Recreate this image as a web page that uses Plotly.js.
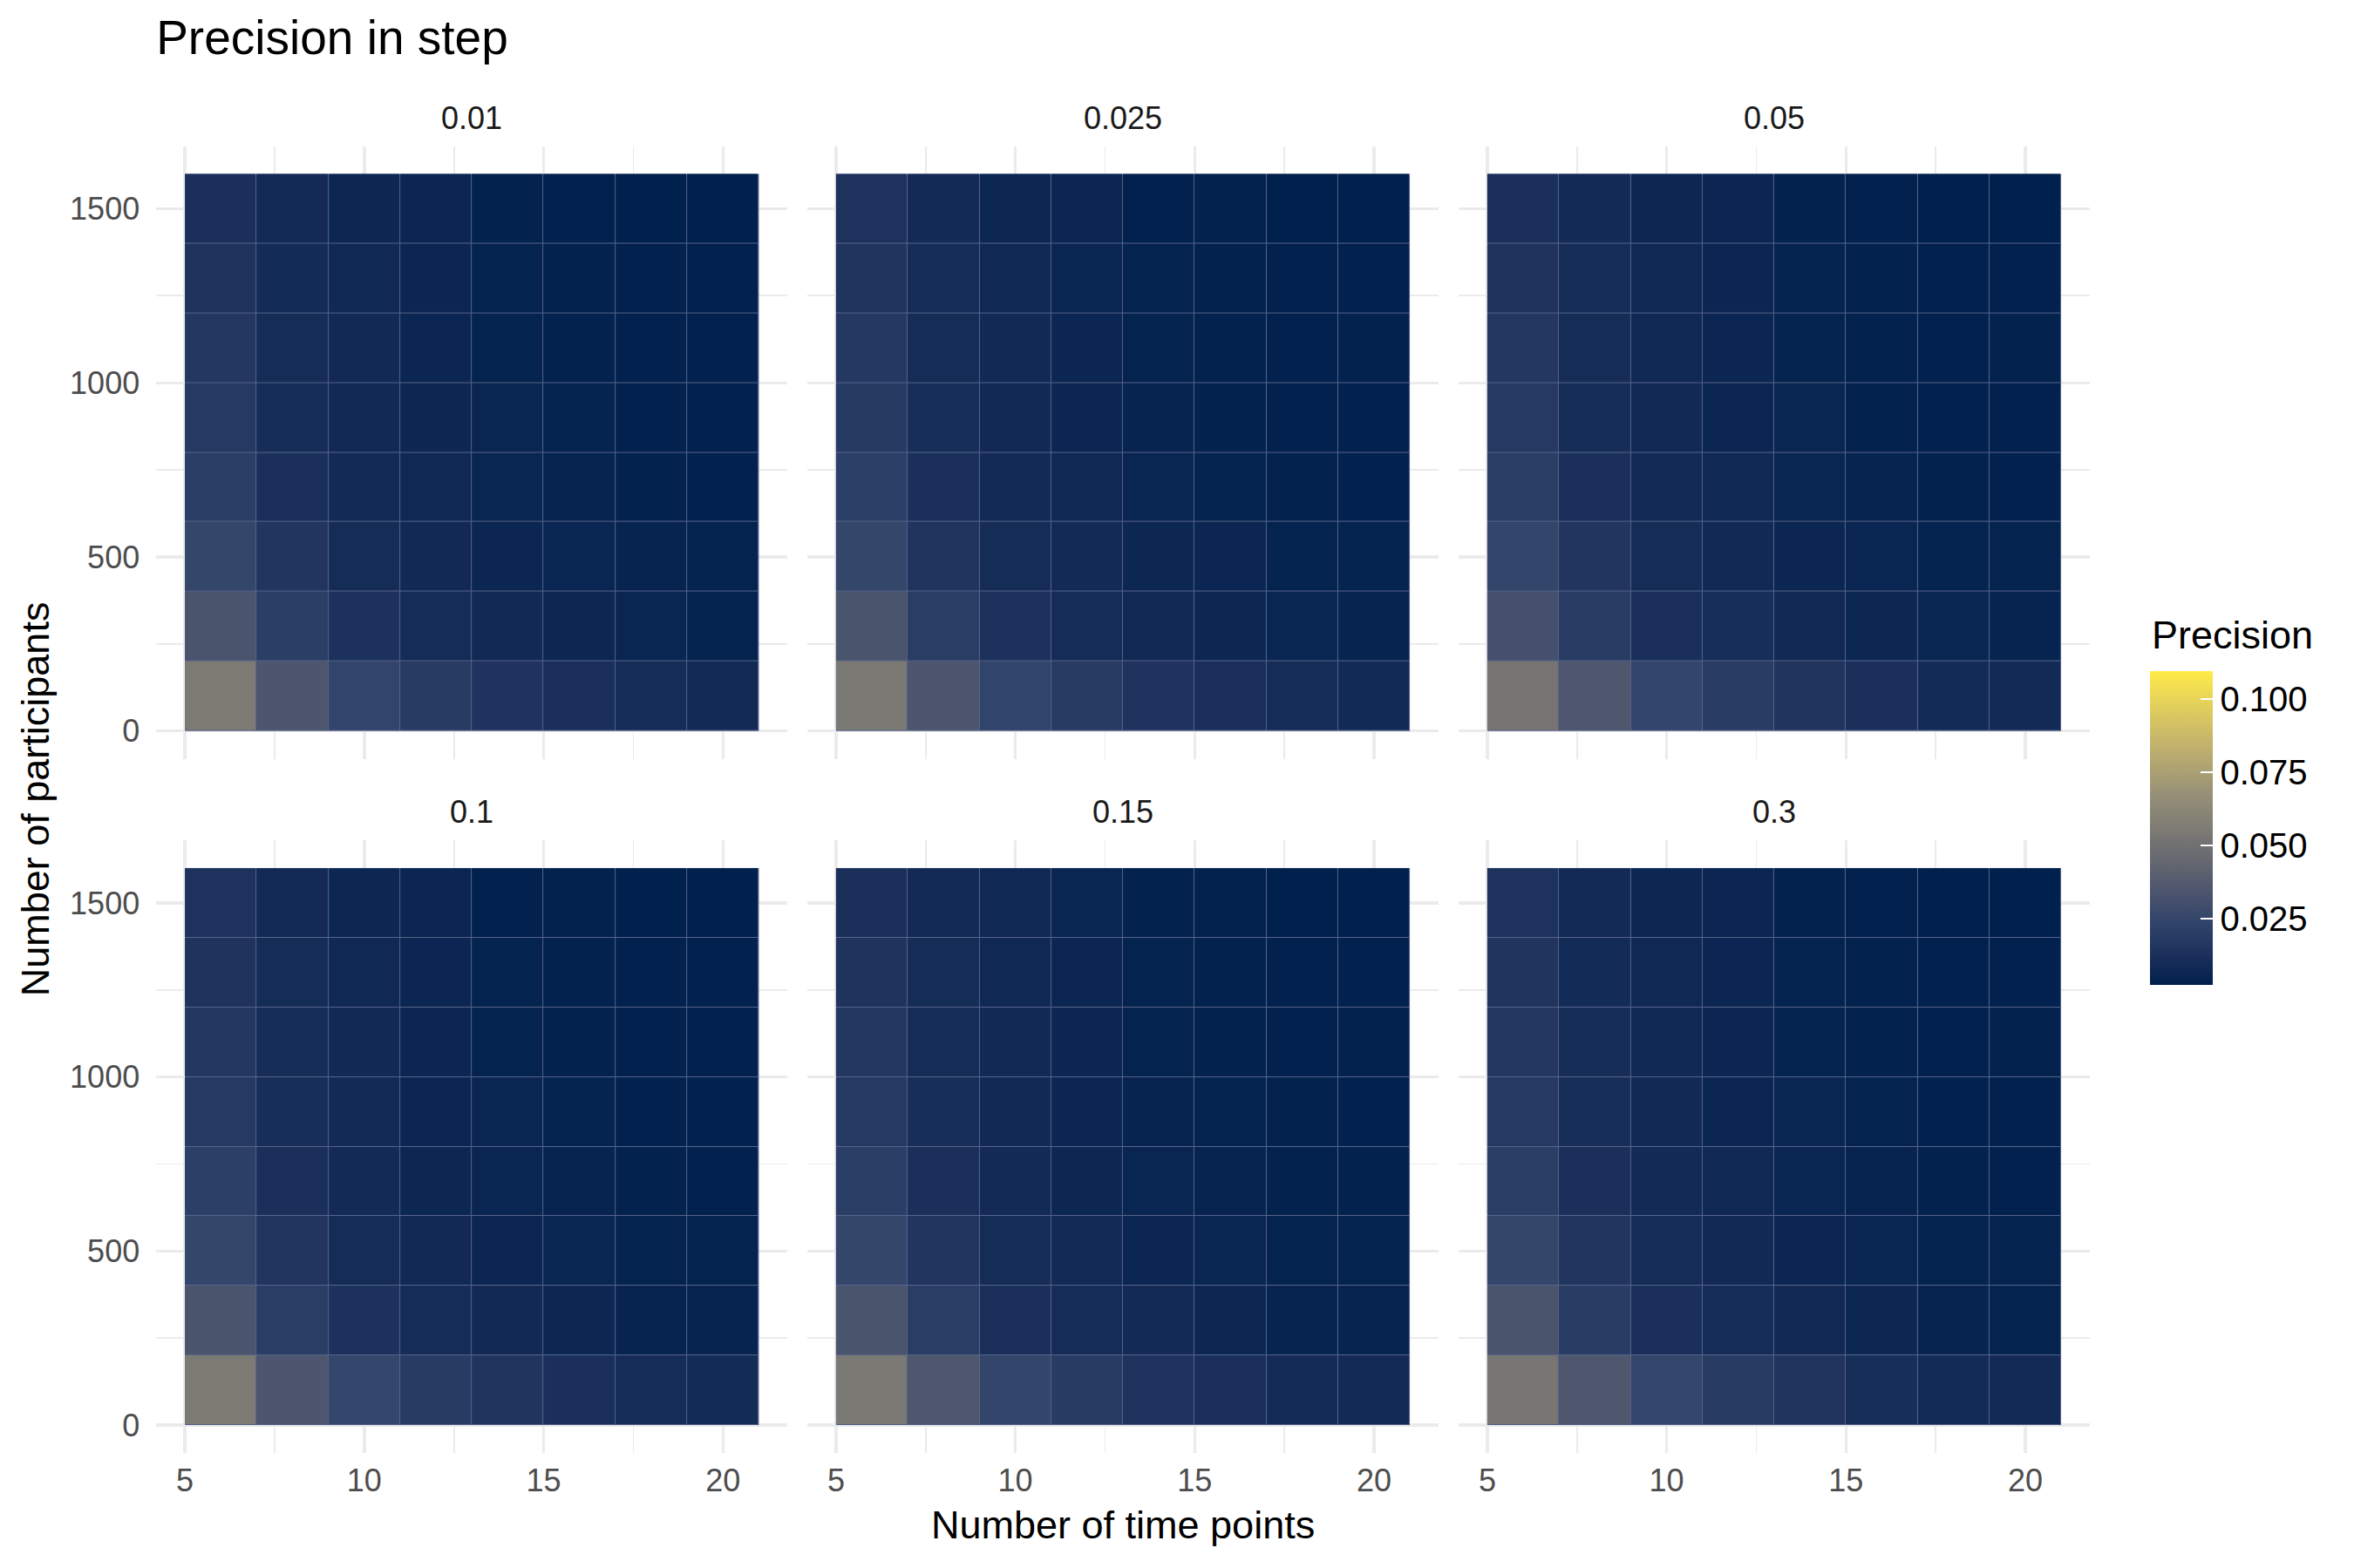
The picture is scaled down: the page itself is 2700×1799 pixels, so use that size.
<!DOCTYPE html>
<html>
<head>
<meta charset="utf-8">
<script src="https://cdn.plot.ly/plotly-3.0.1.min.js"></script>
<style>html,body{margin:0;padding:0;background:#fff;}#chart{width:2700px;height:1799px;}</style>
</head>
<body>
<div id="chart"></div>
<script>
// ---------------- data ----------------
const timePoints = [6, 8, 10, 12, 14, 16, 18, 20];
const participants = [100, 300, 500, 700, 900, 1100, 1300, 1500];
const panelLabels = ['0.01', '0.025', '0.05', '0.1', '0.15', '0.3'];

// rows: participants 100 -> 1500; columns: time points 6 -> 20
const precision_0_01 = [
  [0.0546, 0.0347, 0.0241, 0.0184, 0.0145, 0.0118, 0.0099, 0.0086],
  [0.0332, 0.0205, 0.0130, 0.0099, 0.0080, 0.0068, 0.0055, 0.0043],
  [0.0252, 0.0155, 0.0099, 0.0080, 0.0061, 0.0055, 0.0049, 0.0043],
  [0.0202, 0.0124, 0.0086, 0.0074, 0.0055, 0.0049, 0.0036, 0.0030],
  [0.0174, 0.0105, 0.0080, 0.0068, 0.0055, 0.0043, 0.0030, 0.0030],
  [0.0161, 0.0099, 0.0080, 0.0061, 0.0043, 0.0036, 0.0030, 0.0030],
  [0.0143, 0.0093, 0.0074, 0.0061, 0.0043, 0.0036, 0.0030, 0.0030],
  [0.0124, 0.0086, 0.0068, 0.0061, 0.0036, 0.0030, 0.0024, 0.0024]
];
const precision_0_025 = [
  [0.0540, 0.0347, 0.0240, 0.0184, 0.0145, 0.0118, 0.0099, 0.0088],
  [0.0332, 0.0196, 0.0130, 0.0099, 0.0080, 0.0068, 0.0055, 0.0049],
  [0.0252, 0.0149, 0.0099, 0.0086, 0.0068, 0.0061, 0.0043, 0.0043],
  [0.0208, 0.0124, 0.0086, 0.0074, 0.0055, 0.0043, 0.0036, 0.0030],
  [0.0180, 0.0111, 0.0080, 0.0061, 0.0049, 0.0036, 0.0030, 0.0030],
  [0.0168, 0.0099, 0.0080, 0.0061, 0.0043, 0.0036, 0.0030, 0.0036],
  [0.0149, 0.0099, 0.0074, 0.0055, 0.0043, 0.0036, 0.0030, 0.0030],
  [0.0136, 0.0086, 0.0068, 0.0061, 0.0030, 0.0036, 0.0024, 0.0024]
];
const precision_0_05 = [
  [0.0526, 0.0350, 0.0245, 0.0190, 0.0149, 0.0124, 0.0093, 0.0086],
  [0.0308, 0.0190, 0.0124, 0.0111, 0.0080, 0.0068, 0.0055, 0.0049],
  [0.0246, 0.0155, 0.0099, 0.0080, 0.0061, 0.0055, 0.0043, 0.0043],
  [0.0202, 0.0124, 0.0086, 0.0074, 0.0055, 0.0049, 0.0036, 0.0030],
  [0.0174, 0.0105, 0.0080, 0.0061, 0.0055, 0.0036, 0.0030, 0.0030],
  [0.0161, 0.0099, 0.0074, 0.0061, 0.0043, 0.0036, 0.0030, 0.0036],
  [0.0143, 0.0099, 0.0074, 0.0061, 0.0043, 0.0036, 0.0030, 0.0030],
  [0.0124, 0.0086, 0.0068, 0.0061, 0.0036, 0.0030, 0.0024, 0.0024]
];
const precision_0_1 = [
  [0.0546, 0.0347, 0.0250, 0.0184, 0.0149, 0.0124, 0.0099, 0.0093],
  [0.0332, 0.0196, 0.0130, 0.0099, 0.0080, 0.0068, 0.0049, 0.0049],
  [0.0252, 0.0155, 0.0099, 0.0080, 0.0061, 0.0055, 0.0043, 0.0043],
  [0.0208, 0.0124, 0.0086, 0.0068, 0.0055, 0.0049, 0.0036, 0.0030],
  [0.0174, 0.0111, 0.0086, 0.0061, 0.0055, 0.0043, 0.0030, 0.0030],
  [0.0161, 0.0105, 0.0080, 0.0061, 0.0043, 0.0036, 0.0030, 0.0030],
  [0.0143, 0.0099, 0.0074, 0.0061, 0.0043, 0.0036, 0.0030, 0.0030],
  [0.0136, 0.0086, 0.0068, 0.0061, 0.0030, 0.0036, 0.0024, 0.0024]
];
const precision_0_15 = [
  [0.0540, 0.0350, 0.0245, 0.0184, 0.0145, 0.0118, 0.0096, 0.0090],
  [0.0332, 0.0196, 0.0124, 0.0099, 0.0086, 0.0068, 0.0049, 0.0049],
  [0.0252, 0.0155, 0.0099, 0.0086, 0.0061, 0.0055, 0.0043, 0.0043],
  [0.0202, 0.0124, 0.0086, 0.0068, 0.0055, 0.0049, 0.0036, 0.0036],
  [0.0174, 0.0111, 0.0080, 0.0061, 0.0049, 0.0043, 0.0036, 0.0030],
  [0.0161, 0.0099, 0.0080, 0.0061, 0.0043, 0.0036, 0.0030, 0.0036],
  [0.0143, 0.0099, 0.0074, 0.0061, 0.0043, 0.0036, 0.0030, 0.0030],
  [0.0124, 0.0086, 0.0074, 0.0055, 0.0036, 0.0036, 0.0024, 0.0024]
];
const precision_0_3 = [
  [0.0528, 0.0350, 0.0250, 0.0184, 0.0149, 0.0111, 0.0093, 0.0086],
  [0.0332, 0.0190, 0.0124, 0.0099, 0.0080, 0.0068, 0.0049, 0.0043],
  [0.0252, 0.0155, 0.0099, 0.0080, 0.0061, 0.0055, 0.0043, 0.0043],
  [0.0202, 0.0124, 0.0086, 0.0074, 0.0055, 0.0049, 0.0036, 0.0030],
  [0.0174, 0.0111, 0.0080, 0.0061, 0.0055, 0.0043, 0.0030, 0.0030],
  [0.0161, 0.0105, 0.0074, 0.0061, 0.0043, 0.0036, 0.0030, 0.0036],
  [0.0149, 0.0093, 0.0074, 0.0061, 0.0043, 0.0036, 0.0030, 0.0030],
  [0.0136, 0.0086, 0.0068, 0.0061, 0.0036, 0.0030, 0.0024, 0.0024]
];
const panelData = [precision_0_01, precision_0_025, precision_0_05, precision_0_1, precision_0_15, precision_0_3];

const colorMin = 0.0024;
const colorMax = 0.1096;
const legendTicks = [0.025, 0.05, 0.075, 0.1];
const legendTickText = ['0.025', '0.050', '0.075', '0.100'];
const xTicks = [5, 10, 15, 20];
const yTicks = [0, 500, 1000, 1500];

// ---------------- cividis (ggplot: 6 colours interpolated in Lab) ----------------
const cividisStops = ['#00204D', '#31446B', '#666970', '#958F78', '#CBBA69', '#FFEA46'];
function toLin(c){ c/=255; return c<=0.04045 ? c/12.92 : Math.pow((c+0.055)/1.055,2.4); }
function fromLin(c){ let v = c<=0.0031308 ? 12.92*c : 1.055*Math.pow(c,1/2.4)-0.055; return Math.max(0,Math.min(255,Math.round(v*255))); }
const Xn=0.95047, Yn=1.0, Zn=1.08883;
function fLab(t){ return t>0.008856 ? Math.cbrt(t) : 7.787*t+16/116; }
function fInv(t){ const t3=t*t*t; return t3>0.008856 ? t3 : (t-16/116)/7.787; }
function hexToLab(h){
  const r=toLin(parseInt(h.substr(1,2),16)), g=toLin(parseInt(h.substr(3,2),16)), b=toLin(parseInt(h.substr(5,2),16));
  const X=0.4124*r+0.3576*g+0.1805*b, Y=0.2126*r+0.7152*g+0.0722*b, Z=0.0193*r+0.1192*g+0.9505*b;
  const fx=fLab(X/Xn), fy=fLab(Y/Yn), fz=fLab(Z/Zn);
  return [116*fy-16, 500*(fx-fy), 200*(fy-fz)];
}
function labToRgb(L,a,b){
  const fy=(L+16)/116, fx=fy+a/500, fz=fy-b/200;
  const X=Xn*fInv(fx), Y=Yn*fInv(fy), Z=Zn*fInv(fz);
  const r= 3.2406*X-1.5372*Y-0.4986*Z, g=-0.9689*X+1.8758*Y+0.0415*Z, bb=0.0557*X-0.2040*Y+1.0570*Z;
  return 'rgb('+fromLin(r)+','+fromLin(g)+','+fromLin(bb)+')';
}
const labStops = cividisStops.map(hexToLab);
const colorscale = [];
const N = 60;
for (let i=0;i<=N;i++){
  const t=i/N, seg=Math.min(4,Math.floor(t*5)), u=t*5-seg;
  const A=labStops[seg], B=labStops[seg+1];
  colorscale.push([t, labToRgb(A[0]+(B[0]-A[0])*u, A[1]+(B[1]-A[1])*u, A[2]+(B[2]-A[2])*u)]);
}

// ---------------- layout geometry ----------------
const W=2700, H=1799;
const colPx = [[179.2, 903.4], [926, 1650], [1673, 2397]];
const rowPx = [[167.6, 870.7], [964, 1667]];
const font = 'Liberation Sans, Arial, Helvetica, sans-serif';
const gridColor = '#EBEBEB';

const traces = [];
const layout = {
  width: W, height: H,
  margin: {l:0, r:0, t:0, b:0},
  paper_bgcolor: '#ffffff', plot_bgcolor: '#ffffff',
  font: {family: font, color: '#000000'},
  showlegend: false,
  title: {text: 'Precision in step', x: colPx[0][0]/W, xanchor: 'left', xref: 'paper',
          y: 1-43/H, yanchor: 'middle', yref: 'container',
          font: {family: font, size: 55, color: '#000000'}},
  annotations: [],
  shapes: [],
  coloraxis: {
    colorscale: colorscale, cmin: colorMin, cmax: colorMax,
    colorbar: {
      x: 2465.7/W, xanchor: 'left', xpad: 0,
      y: 1-1130/H, yanchor: 'bottom', ypad: 0,
      lenmode: 'pixels', len: 360, thickness: 72, thicknessmode: 'pixels',
      outlinewidth: 0,
      tickmode: 'array', tickvals: legendTicks, ticktext: legendTickText,
      ticks: 'inside', ticklen: 14, tickwidth: 2, tickcolor: '#ffffff',
      tickfont: {family: font, size: 40, color: '#000000'}
    }
  }
};

const stepX = timePoints[1]-timePoints[0];
const stepY = participants[1]-participants[0];

panelData.forEach((z, k) => {
  const n = k+1;
  const row = Math.floor(k/3), col = k%3;
  const xa = 'xaxis'+(n===1?'':n), ya = 'yaxis'+(n===1?'':n);
  const xr = 'x'+(n===1?'':n), yr = 'y'+(n===1?'':n);
  layout[xa] = {
    domain: [colPx[col][0]/W, colPx[col][1]/W],
    anchor: yr, range: [4.2, 21.8],
    tickmode: 'array', tickvals: xTicks,
    showgrid: true, gridcolor: gridColor, gridwidth: 3.5,
    minor: {tickmode: 'linear', tick0: 5, dtick: 2.5, showgrid: true, gridcolor: gridColor, gridwidth: 1.8, ticks: ''},
    zeroline: false, showline: false, ticks: '',
    showticklabels: row===1, ticklabelstandoff: 7,
    tickfont: {family: font, size: 36, color: '#4D4D4D'},
    fixedrange: true
  };
  layout[ya] = {
    domain: [1-rowPx[row][1]/H, 1-rowPx[row][0]/H],
    anchor: xr, range: [-80, 1680],
    tickmode: 'array', tickvals: yTicks,
    showgrid: true, gridcolor: gridColor, gridwidth: 3.5,
    minor: {tickmode: 'linear', tick0: 0, dtick: 250, showgrid: true, gridcolor: gridColor, gridwidth: 1.8, ticks: ''},
    zeroline: false, showline: false, ticks: '',
    showticklabels: col===0, ticklabelstandoff: 18,
    tickfont: {family: font, size: 36, color: '#4D4D4D'},
    fixedrange: true
  };
  traces.push({
    type: 'heatmap', x: timePoints, y: participants, z: z,
    xaxis: xr, yaxis: yr, coloraxis: 'coloraxis',
    xgap: 1, ygap: 1, hoverinfo: 'skip'
  });
  // faint seam colour showing between tiles (drawn above gridlines, below tiles)
  layout.shapes.push({
    type: 'rect', layer: 'between', xref: xr, yref: yr,
    x0: timePoints[0]-stepX/2, x1: timePoints[timePoints.length-1]+stepX/2,
    y0: participants[0]-stepY/2, y1: participants[participants.length-1]+stepY/2,
    fillcolor: '#56648a', line: {width: 0}
  });
  // facet strip label
  layout.annotations.push({
    text: panelLabels[k], xref: 'paper', yref: 'paper', showarrow: false,
    x: (colPx[col][0]+colPx[col][1])/2/W, xanchor: 'center',
    y: 1-(rowPx[row][0]-32.5)/H, yanchor: 'middle',
    font: {family: font, size: 36, color: '#1A1A1A'}
  });
});

layout.annotations.push({
  text: 'Number of time points', xref: 'paper', yref: 'paper', showarrow: false,
  x: (colPx[0][0]+colPx[2][1])/2/W, xanchor: 'center',
  y: 1-1749.5/H, yanchor: 'middle',
  font: {family: font, size: 45, color: '#000000'}
});
layout.annotations.push({
  text: 'Number of participants', xref: 'paper', yref: 'paper', showarrow: false,
  x: 40/W, xanchor: 'center', textangle: -90,
  y: 1-(rowPx[0][0]+rowPx[1][1])/2/H, yanchor: 'middle',
  font: {family: font, size: 45, color: '#000000'}
});
// colour legend title
layout.annotations.push({
  text: 'Precision', xref: 'paper', yref: 'paper', showarrow: false,
  x: 2466/W, xanchor: 'left',
  y: 1-728/H, yanchor: 'middle',
  font: {family: font, size: 45, color: '#000000'}
});

Plotly.newPlot('chart', traces, layout, {staticPlot: true, displayModeBar: false});
</script>
</body>
</html>
